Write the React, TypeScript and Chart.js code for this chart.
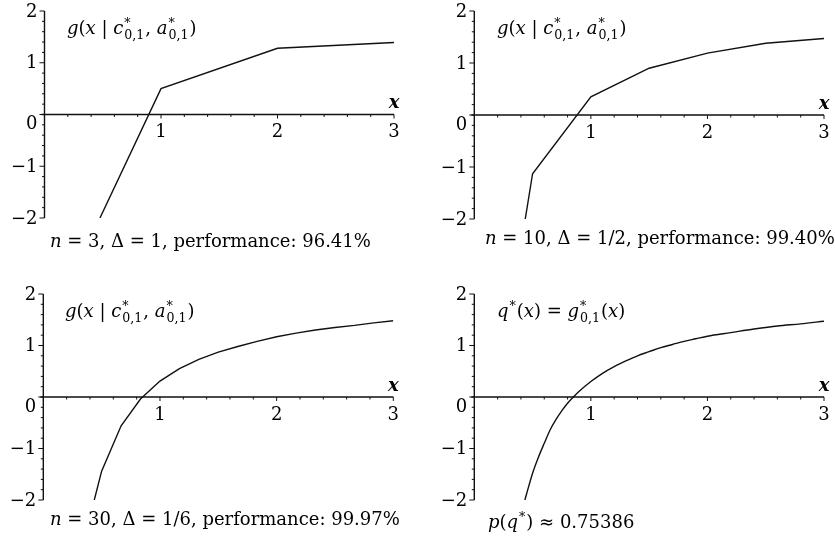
import React, { useEffect, useRef } from "react";
import { Chart, registerables } from "chart.js";

Chart.register(...registerables);

// ---------- data ----------
const X_MIN = 0;
const X_MAX = 3;
const Y_MIN = -2;
const Y_MAX = 2;
const MINOR_STEP = 0.2;
const xTickValues = [1, 2, 3];
const xTickLabels = ["1", "2", "3"];
const yTickValues = [-2, -1, 0, 1, 2];
const yTickLabels = ["\u22122", "\u22121", "0", "1", "2"];

// n = 3, Δ = 1
const panel1X = [0.476, 1, 2, 3];
const panel1Y = [-2, 0.5, 1.28, 1.39];

// n = 10, Δ = 1/2
const panel2X = [0.437, 0.5, 1, 1.5, 2, 2.5, 3];
const panel2Y = [-2, -1.13, 0.35, 0.9, 1.19, 1.38, 1.47];

// n = 30, Δ = 1/6
const panel3X = [0.437, 0.5, 0.667, 0.833, 1, 1.167, 1.333, 1.5, 1.667, 1.833, 2, 2.167, 2.333, 2.5, 2.667, 2.833, 3];
const panel3Y = [-2, -1.44, -0.56, -0.04, 0.31, 0.55, 0.73, 0.87, 0.98, 1.08, 1.17, 1.24, 1.3, 1.35, 1.39, 1.44, 1.48];

// q*(x)
const panel4X = [0.434, 0.45, 0.5, 0.55, 0.6, 0.65, 0.7, 0.75, 0.8, 0.85, 0.9, 1, 1.1, 1.2, 1.3, 1.4, 1.5, 1.6, 1.7, 1.8, 1.9, 2, 2.2, 2.4, 2.6, 2.8, 3];
const panel4Y = [-2, -1.87, -1.48, -1.17, -0.9, -0.64, -0.44, -0.27, -0.12, 0, 0.11, 0.3, 0.46, 0.59, 0.7, 0.8, 0.88, 0.96, 1.02, 1.08, 1.13, 1.18, 1.25, 1.32, 1.38, 1.42, 1.47];

// ---------- text ----------
type Seg = { t: string; s?: "r" | "i" | "b" | "bi"; sup?: string; sub?: string };

const titleG: Seg[] = [
  { t: "g", s: "i" },
  { t: "(" },
  { t: "x", s: "i" },
  { t: " | " },
  { t: "c", s: "i", sup: "*", sub: "0,1" },
  { t: ", " },
  { t: "a", s: "i", sup: "*", sub: "0,1" },
  { t: ")" },
];
const titleQ: Seg[] = [
  { t: "q", s: "i", sup: "*" },
  { t: "(" },
  { t: "x", s: "i" },
  { t: ") = " },
  { t: "g", s: "i", sup: "*", sub: "0,1" },
  { t: "(" },
  { t: "x", s: "i" },
  { t: ")" },
];
const caption1: Seg[] = [{ t: "n", s: "i" }, { t: " = 3, \u0394 = 1, performance: 96.41%" }];
const caption2: Seg[] = [{ t: "n", s: "i" }, { t: " = 10, \u0394 = 1/2, performance: 99.40%" }];
const caption3: Seg[] = [{ t: "n", s: "i" }, { t: " = 30, \u0394 = 1/6, performance: 99.97%" }];
const caption4: Seg[] = [
  { t: "p", s: "i" },
  { t: "(" },
  { t: "q", s: "i", sup: "*" },
  { t: ") \u2248 0.75386" },
];

// ---------- layout (page coordinates) ----------
const W = 835;
const H = 539;
const PANELS = [
  { xs: panel1X, ys: panel1Y, smooth: false, title: titleG, caption: caption1,
    area: { l: 44.5, r: 394, t: 11, b: 218 }, titlePos: [67, 34], capPos: [50, 247] },
  { xs: panel2X, ys: panel2Y, smooth: false, title: titleG, caption: caption2,
    area: { l: 474.3, r: 824, t: 11, b: 219 }, titlePos: [497, 34], capPos: [485, 244] },
  { xs: panel3X, ys: panel3Y, smooth: false, title: titleG, caption: caption3,
    area: { l: 43.3, r: 393.3, t: 294, b: 500 }, titlePos: [65, 317], capPos: [50, 525] },
  { xs: panel4X, ys: panel4Y, smooth: true, title: titleQ, caption: caption4,
    area: { l: 474.3, r: 824, t: 294, b: 500 }, titlePos: [497, 317], capPos: [488, 528] },
];

const FAMILY = '"DejaVu Serif", "Liberation Serif", serif';
const TEXT_SIZE = 18;
const INK = "#111";

function fontFor(style: string, size: number) {
  const it = style === "i" || style === "bi" ? "italic " : "";
  const bd = style === "b" || style === "bi" ? "bold " : "";
  return `${it}${bd}${size}px ${FAMILY}`;
}

function drawMath(ctx: CanvasRenderingContext2D, segs: Seg[], x: number, y: number, size: number) {
  let cx = x;
  ctx.textAlign = "left";
  ctx.textBaseline = "alphabetic";
  for (const sg of segs) {
    ctx.font = fontFor(sg.s || "r", size);
    ctx.fillText(sg.t, cx, y);
    cx += ctx.measureText(sg.t).width;
    if (sg.sup || sg.sub) {
      const ss = size * 0.7;
      let w = 0;
      if (sg.sup) {
        ctx.font = fontFor("r", ss);
        ctx.fillText(sg.sup, cx + 1, y - size * 0.38);
        w = Math.max(w, ctx.measureText(sg.sup).width);
      }
      if (sg.sub) {
        ctx.font = fontFor("r", ss);
        ctx.fillText(sg.sub, cx + 1, y + size * 0.26);
        w = Math.max(w, ctx.measureText(sg.sub).width);
      }
      cx += w + 2;
    }
  }
  return cx - x;
}

function Panel({ cfg }: { cfg: (typeof PANELS)[number] }) {
  const ref = useRef<HTMLCanvasElement | null>(null);
  useEffect(() => {
    const canvas = ref.current;
    if (!canvas) return;
    const plugin = {
      id: "mathAxes",
      beforeDatasetsDraw(chart: any) {
        const ctx: CanvasRenderingContext2D = chart.ctx;
        const sx = chart.scales.x;
        const sy = chart.scales.y;
        const ax = sx.getPixelForValue(0);
        const ay = sy.getPixelForValue(0);
        const xEnd = sx.getPixelForValue(X_MAX);
        const yTop = sy.getPixelForValue(Y_MAX);
        const yBot = sy.getPixelForValue(Y_MIN);
        ctx.save();
        ctx.strokeStyle = INK;
        ctx.lineWidth = 1.4;
        ctx.beginPath();
        ctx.moveTo(ax, yTop);
        ctx.lineTo(ax, yBot);
        ctx.moveTo(ax - 3, ay);
        ctx.lineTo(xEnd, ay);
        ctx.stroke();
        ctx.lineWidth = 1;
        ctx.beginPath();
        const ny = Math.round((Y_MAX - Y_MIN) / MINOR_STEP);
        for (let i = 0; i <= ny; i++) {
          const v = Y_MIN + i * MINOR_STEP;
          const major = Math.abs(v - Math.round(v)) < 1e-6;
          const py = sy.getPixelForValue(v);
          ctx.moveTo(ax - (major ? 5 : 2.5), py);
          ctx.lineTo(ax, py);
        }
        const nx = Math.round((X_MAX - X_MIN) / MINOR_STEP);
        for (let i = 1; i <= nx; i++) {
          const v = X_MIN + i * MINOR_STEP;
          const major = Math.abs(v - Math.round(v)) < 1e-6;
          const px = sx.getPixelForValue(v);
          ctx.moveTo(px, ay);
          ctx.lineTo(px, ay + (major ? 4 : 2.5));
        }
        ctx.stroke();

        // tick labels
        ctx.fillStyle = "#000";
        ctx.font = fontFor("r", TEXT_SIZE);
        ctx.textAlign = "right";
        ctx.textBaseline = "middle";
        yTickValues.forEach((v, i) => {
          const py = sy.getPixelForValue(v) + (v === 0 ? 10 : 1);
          ctx.fillText(yTickLabels[i], ax - 7, py);
        });
        ctx.textAlign = "center";
        xTickValues.forEach((v, i) => {
          ctx.fillText(xTickLabels[i], sx.getPixelForValue(v), ay + 18);
        });
        ctx.font = fontFor("bi", TEXT_SIZE);
        ctx.fillText("x", xEnd, ay - 11);

        drawMath(ctx, cfg.title, cfg.titlePos[0], cfg.titlePos[1], TEXT_SIZE);
        drawMath(ctx, cfg.caption, cfg.capPos[0], cfg.capPos[1], TEXT_SIZE);
        ctx.restore();
      },
    };
    const a = cfg.area;
    const chart = new Chart(canvas, {
      type: "line",
      data: {
        datasets: [
          {
            data: cfg.xs.map((x, i) => ({ x, y: cfg.ys[i] })),
            borderColor: INK,
            borderWidth: 1.4,
            pointRadius: 0,
            fill: false,
            tension: cfg.smooth ? 0.4 : 0,
            cubicInterpolationMode: cfg.smooth ? "monotone" : "default",
          } as any,
        ],
      },
      options: {
        responsive: false,
        animation: false,
        devicePixelRatio: 1,
        events: [],
        layout: { padding: { left: a.l, right: W - a.r, top: a.t, bottom: H - a.b } },
        plugins: { legend: { display: false }, tooltip: { enabled: false }, title: { display: false } },
        scales: {
          x: { type: "linear", display: false, min: X_MIN, max: X_MAX },
          y: { type: "linear", display: false, min: Y_MIN, max: Y_MAX },
        },
      },
      plugins: [plugin],
    });
    return () => chart.destroy();
  }, [cfg]);
  return (
    <canvas
      ref={ref}
      width={W}
      height={H}
      style={{ position: "absolute", left: 0, top: 0, width: W, height: H, display: "block" }}
    />
  );
}

export default function App() {
  return (
    <div style={{ position: "absolute", left: 0, top: 0, width: W, height: H, background: "#fff", overflow: "hidden" }}>
      {PANELS.map((p, i) => (
        <Panel key={i} cfg={p} />
      ))}
    </div>
  );
}
